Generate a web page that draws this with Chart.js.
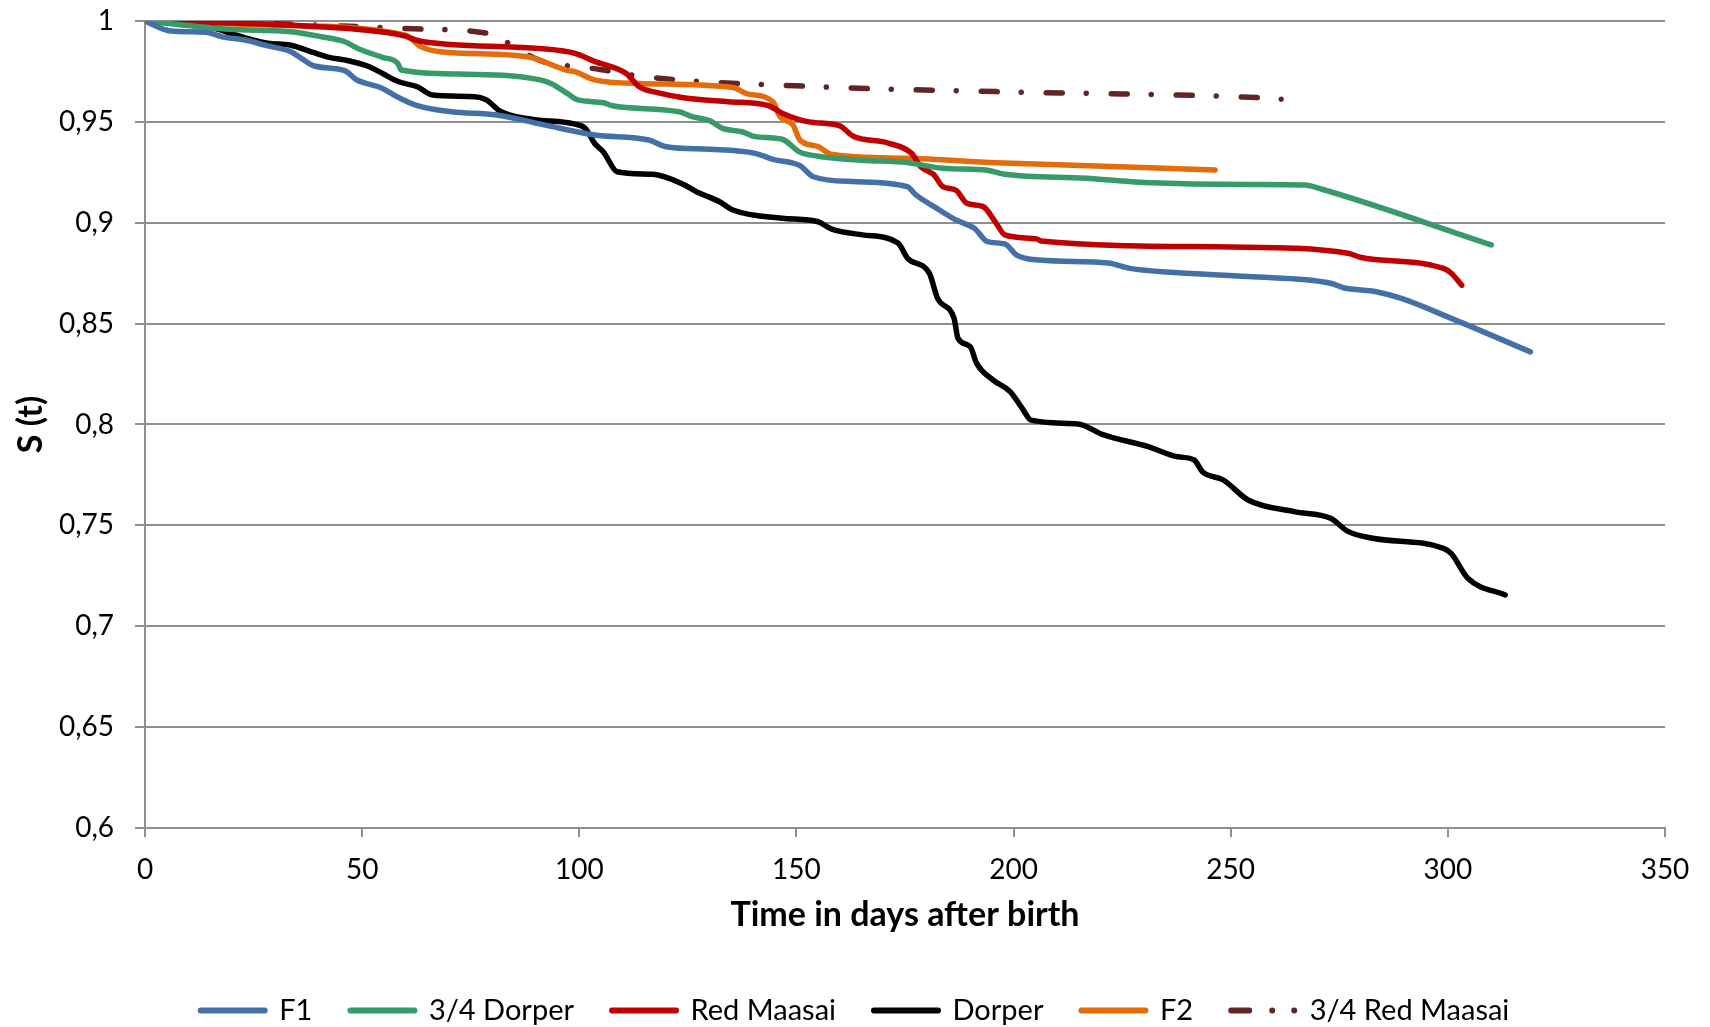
<!DOCTYPE html>
<html>
<head>
<meta charset="utf-8">
<script src="https://cdn.jsdelivr.net/npm/chart.js@4.4.0/dist/chart.umd.min.js"></script>
<style>
    body { margin: 0; background: #fff; }
    #wrap { width: 1710px; height: 1027px; }
</style>
</head>
<body>
<div id="wrap"><canvas id="chart" width="1710" height="1027"></canvas></div>
<script>
// survival curves (days after birth, S(t))
const f1Days = [0, 6, 14, 18, 23, 28, 33.6, 36, 39, 46, 48.6, 54.7, 58, 62.7, 70.6, 81, 90, 93, 103.5, 116, 120, 130, 140.5, 144.6, 150.8, 153.9, 163, 175.5, 177.5, 181.7, 186.7, 191, 194, 198, 200.7, 206, 221.7, 226.8, 237, 254, 273, 276, 283.5, 289.3, 300.8, 319];
const f1Surv = [1, 0.995, 0.9944, 0.992, 0.9906, 0.9878, 0.9848, 0.9815, 0.9777, 0.9754, 0.971, 0.9666, 0.9625, 0.958, 0.955, 0.9534, 0.9494, 0.948, 0.9435, 0.941, 0.9377, 0.9364, 0.9344, 0.9314, 0.9283, 0.9228, 0.9204, 0.9179, 0.9138, 0.908, 0.9014, 0.8972, 0.8906, 0.8895, 0.884, 0.8815, 0.88, 0.8774, 0.8753, 0.8733, 0.870, 0.8678, 0.8658, 0.8625, 0.8526, 0.836];

const dorper34Days = [0, 19.5, 33.6, 40.6, 46, 49.4, 54.7, 58.2, 59, 72.4, 91, 93.5, 97.3, 99.5, 105.6, 107.6, 123, 126, 130, 133, 137.5, 140.5, 146.7, 150.8, 155, 165, 175.5, 183.7, 194, 198, 216.7, 226.8, 230, 254, 267, 271, 310];
const dorper34Surv = [1, 0.9959, 0.9947, 0.9922, 0.9897, 0.986, 0.982, 0.979, 0.9757, 0.9737, 0.9708, 0.969, 0.964, 0.961, 0.9595, 0.958, 0.955, 0.9526, 0.9506, 0.9468, 0.9451, 0.9427, 0.9414, 0.935, 0.933, 0.931, 0.9298, 0.927, 0.926, 0.924, 0.922, 0.9204, 0.920, 0.919, 0.9187, 0.9166, 0.889];

const redMaasaiDays = [0, 37, 59, 63.5, 90, 99, 103.5, 110.8, 113.8, 118, 124, 134.4, 143.6, 146.7, 152.9, 160, 163, 171.3, 176.5, 178.6, 181.7, 183.7, 186.7, 189.3, 193, 196, 198, 205.3, 206.3, 250, 277, 279.8, 299, 300.8, 303.2];
const redMaasaiSurv = [1, 0.9975, 0.993, 0.990, 0.9865, 0.984, 0.980, 0.974, 0.9674, 0.9645, 0.962, 0.960, 0.958, 0.9543, 0.950, 0.948, 0.943, 0.9394, 0.9344, 0.9278, 0.9237, 0.9179, 0.9162, 0.9096, 0.908, 0.8997, 0.894, 0.892, 0.891, 0.888, 0.8849, 0.8829, 0.8774, 0.875, 0.869];

const dorperDays = [0, 16, 19.5, 24.8, 28.3, 33.6, 38.9, 42.4, 46, 51.2, 54.7, 58.3, 62.7, 66.2, 75.9, 78.5, 82, 89, 98.8, 101.4, 103.5, 105.6, 108.7, 116.9, 124, 127, 132.3, 135.4, 146.7, 155, 158, 165.2, 173.4, 175.6, 180.6, 182.5, 186.3, 187.2, 190, 191.5, 195.3, 199.2, 202, 204, 214.8, 220.6, 231, 237.8, 241.6, 243.5, 248.3, 254, 264.6, 273, 277, 282.7, 299, 300.8, 304.6, 313.2];
const dorperSurv = [1, 0.9964, 0.994, 0.9906, 0.989, 0.988, 0.9843, 0.982, 0.9807, 0.9777, 0.974, 0.970, 0.9674, 0.9633, 0.9625, 0.961, 0.955, 0.9513, 0.949, 0.9468, 0.9394, 0.935, 0.9253, 0.924, 0.919, 0.9154, 0.9104, 0.9063, 0.9022, 0.9005, 0.897, 0.894, 0.890, 0.8824, 0.875, 0.8625, 0.8526, 0.8427, 0.8386, 0.8303, 0.822, 0.8163, 0.808, 0.8022, 0.8003, 0.795, 0.789, 0.784, 0.7824, 0.7766, 0.7725, 0.7626, 0.7568, 0.7535, 0.747, 0.7436, 0.7386, 0.736, 0.7238, 0.7155];

const f2Days = [0, 28.3, 60, 63.5, 68, 88, 97.4, 98.8, 103.5, 113.8, 135.4, 138.5, 144.6, 146.2, 149.2, 150.8, 155, 158, 175.5, 196, 246.4];
const f2Surv = [1, 0.998, 0.993, 0.9873, 0.9848, 0.9823, 0.9754, 0.975, 0.9708, 0.969, 0.967, 0.964, 0.960, 0.9526, 0.9485, 0.941, 0.9377, 0.934, 0.932, 0.9298, 0.9262];

const redMaasai34Days = [0, 19.5, 46, 63.5, 78.5, 89, 93, 98, 104.8, 113.8, 155, 196, 254.4, 263.6];
const redMaasai34Surv = [1, 0.9992, 0.9975, 0.996, 0.994, 0.9823, 0.979, 0.9777, 0.976, 0.9727, 0.9674, 0.965, 0.9622, 0.961];

const seriesNames = ['F1', '3/4 Dorper', 'Red Maasai', 'Dorper', 'F2', '3/4 Red Maasai'];
const seriesColors = ['#4470a8', '#369a69', '#c00000', '#000000', '#e46c0a', '#632523'];

const xTicks = [0, 50, 100, 150, 200, 250, 300, 350];
const yMin = 0.6, yMax = 1, yStep = 0.05;

const gridColor = '#8f8f8f';
const fontFamily = 'Lato, "Open Sans", sans-serif';
const dashDot = [16, 24, 0.01, 25];
const legendDashDot = [18, 23, 0.01, 22, 0.01, 10];

function toPoints(days, surv) {
    return days.map((d, i) => ({ x: d, y: surv[i] }));
}

const allDays = [f1Days, dorper34Days, redMaasaiDays, dorperDays, f2Days, redMaasai34Days];
const allSurv = [f1Surv, dorper34Surv, redMaasaiSurv, dorperSurv, f2Surv, redMaasai34Surv];

const datasets = seriesNames.map((name, i) => ({
    label: name,
    data: toPoints(allDays[i], allSurv[i]),
    borderColor: seriesColors[i],
    backgroundColor: seriesColors[i],
    borderWidth: 5.5,
    borderCapStyle: 'round',
    borderJoinStyle: 'round',
    borderDash: i === 5 ? dashDot : [],
    pointRadius: 0,
    cubicInterpolationMode: 'monotone',
    fill: false
}));

const ctx = document.getElementById('chart').getContext('2d');
const chart = new Chart(ctx, {
    type: 'line',
    data: { datasets: datasets },
    options: {
        responsive: false,
        animation: false,
        devicePixelRatio: 1,
        layout: { padding: { top: 21, right: 0, left: 0, bottom: -8 } },
        plugins: {
            tooltip: { enabled: false },
            legend: {
                display: true,
                position: 'bottom',
                labels: {
                    usePointStyle: true,
                    pointStyle: 'line',
                    pointStyleWidth: 64,
                    padding: 38,
                    color: '#000',
                    font: { family: fontFamily, size: 29 },
                    generateLabels: c => {
                        const items = Chart.defaults.plugins.legend.labels.generateLabels(c);
                        items.forEach(item => {
                            const ds = c.data.datasets[item.datasetIndex];
                            item.lineDash = ds.borderDash.length ? legendDashDot : [];
                            item.lineCap = 'round';
                            item.lineWidth = 6;
                            item.strokeStyle = ds.borderColor;
                        });
                        return items;
                    }
                }
            }
        },
        scales: {
            x: {
                type: 'linear',
                min: 0,
                max: 350,
                afterBuildTicks: scale => { scale.ticks = xTicks.map(v => ({ value: v })); },
                afterFit: scale => {
                    scale.height = 130;
                    scale.paddingRight = 45;
                },
                ticks: {
                    color: '#000',
                    padding: 16,
                    maxRotation: 0,
                    font: { family: fontFamily, size: 28 }
                },
                grid: {
                    display: true,
                    drawOnChartArea: false,
                    drawTicks: true,
                    tickLength: 9,
                    color: gridColor,
                    lineWidth: 2
                },
                border: { display: true, color: gridColor, width: 2 },
                title: {
                    display: true,
                    text: 'Time in days after birth',
                    color: '#000',
                    padding: { top: 0, bottom: 23 },
                    font: { family: fontFamily, size: 34, weight: 'bold' }
                }
            },
            y: {
                min: yMin,
                max: yMax,
                afterFit: scale => {
                    scale.width = 145;
                    scale.paddingTop = 0;
                    scale.paddingBottom = 0;
                },
                ticks: {
                    stepSize: yStep,
                    color: '#000',
                    padding: 21,
                    font: { family: fontFamily, size: 28 },
                    callback: v => String(Number(v.toFixed(2))).replace('.', ',')
                },
                grid: {
                    color: gridColor,
                    lineWidth: 2,
                    tickLength: 10
                },
                border: { display: true, color: gridColor, width: 2 },
                title: {
                    display: true,
                    text: 'S (t)',
                    color: '#000',
                    padding: { top: 11, bottom: 0 },
                    font: { family: fontFamily, size: 34, weight: 'bold' }
                }
            }
        }
    }
});
</script>
</body>
</html>
